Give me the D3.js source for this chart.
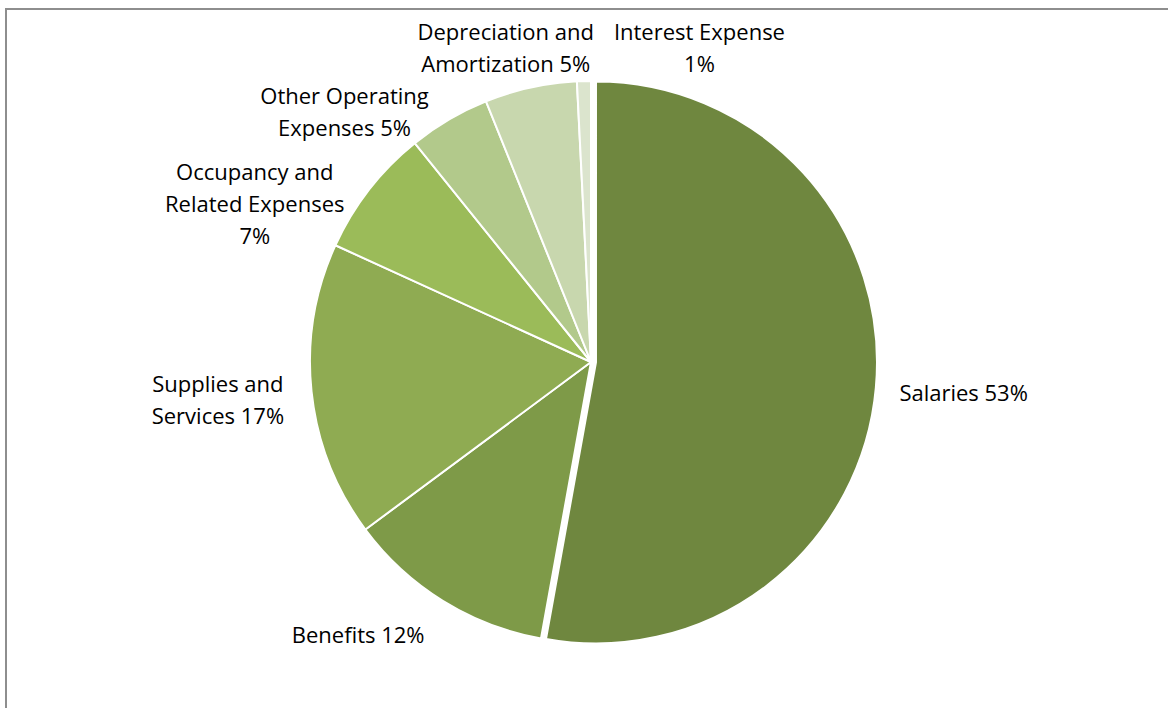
<!DOCTYPE html>
<html>
<head>
<meta charset="utf-8">
<script src="https://cdn.jsdelivr.net/npm/d3@7"></script>
<style>
  body { margin: 0; background: #fff; }
  svg { display: block; }
</style>
</head>
<body>
<div id="chart"></div>
<script>
// data
const categories = ["Salaries", "Benefits", "Supplies and Services", "Occupancy and Related Expenses",
  "Other Operating Expenses", "Depreciation and Amortization", "Interest Expense"];
const values = [52.9, 12.0, 17.0, 7.4, 4.7, 5.3, 0.8];
// label text split in lines, {p} = percent
const labelLines = [
  ["Salaries {p}"],
  ["Benefits {p}"],
  ["Supplies and", "Services {p}"],
  ["Occupancy and", "Related Expenses", "{p}"],
  ["Other Operating", "Expenses {p}"],
  ["Depreciation and", "Amortization {p}"],
  ["Interest Expense", "{p}"]
];
const colors = ["#6f873f", "#7e9a48", "#8fab52", "#9bbb59", "#b2c98b", "#c8d7ae", "#dbe4cd"];

const width = 1168, height = 708;
const cx = 591, cy = 362, radius = 281;
const labelRadius = radius + 60;
const explode = [5, 0, 0, 0, 0, 0, 0];
// nudges so labels sit where excel put them
const nudge = [[33, 0], [-53, -18], [-34, 1], [-67, 50], [-74, 43], [-12, 18], [117, 26]];
const lineH = 32;

const svg = d3.select("#chart").append("svg")
  .attr("width", width)
  .attr("height", height);

// chart frame (runs off the right and bottom edge)
svg.append("rect")
  .attr("x", 6).attr("y", 9)
  .attr("width", width + 20).attr("height", height + 20)
  .attr("fill", "none")
  .attr("stroke", "#8e8e8e")
  .attr("stroke-width", 2);

const total = d3.sum(values);
const pie = d3.pie().sort(null).value(d => d)(values);
const arc = d3.arc().innerRadius(0).outerRadius(radius);
const labelArc = d3.arc().innerRadius(labelRadius).outerRadius(labelRadius);

const g = svg.append("g").attr("transform", "translate(" + cx + "," + cy + ")");

g.selectAll("path")
  .data(pie)
  .enter()
  .append("path")
  .attr("d", arc)
  .attr("fill", (d, i) => colors[i])
  .attr("stroke", "#fff")
  .attr("stroke-width", 2)
  .attr("stroke-linejoin", "round")
  .attr("transform", function(d, i) {
    const a = (d.startAngle + d.endAngle) / 2;
    return "translate(" + (Math.sin(a) * explode[i]) + "," + (-Math.cos(a) * explode[i]) + ")";
  });

const labels = g.selectAll("text")
  .data(pie)
  .enter()
  .append("text")
  .attr("text-anchor", "middle")
  .attr("font-family", "'Open Sans', sans-serif")
  .attr("font-size", "22px")
  .attr("fill", "#000");

labels.each(function(d, i) {
  const c = labelArc.centroid(d);
  const x = c[0] + nudge[i][0];
  const y = c[1] + nudge[i][1];
  const pct = Math.round(values[i] / total * 100) + "%";
  const lines = labelLines[i];
  lines.forEach(function(s, j) {
    d3.select(this).append("tspan")
      .attr("x", x)
      .attr("y", y + (j - (lines.length - 1) / 2) * lineH)
      .attr("dominant-baseline", "central")
      .text(s.replace("{p}", pct));
  }, this);
});
</script>
</body>
</html>
